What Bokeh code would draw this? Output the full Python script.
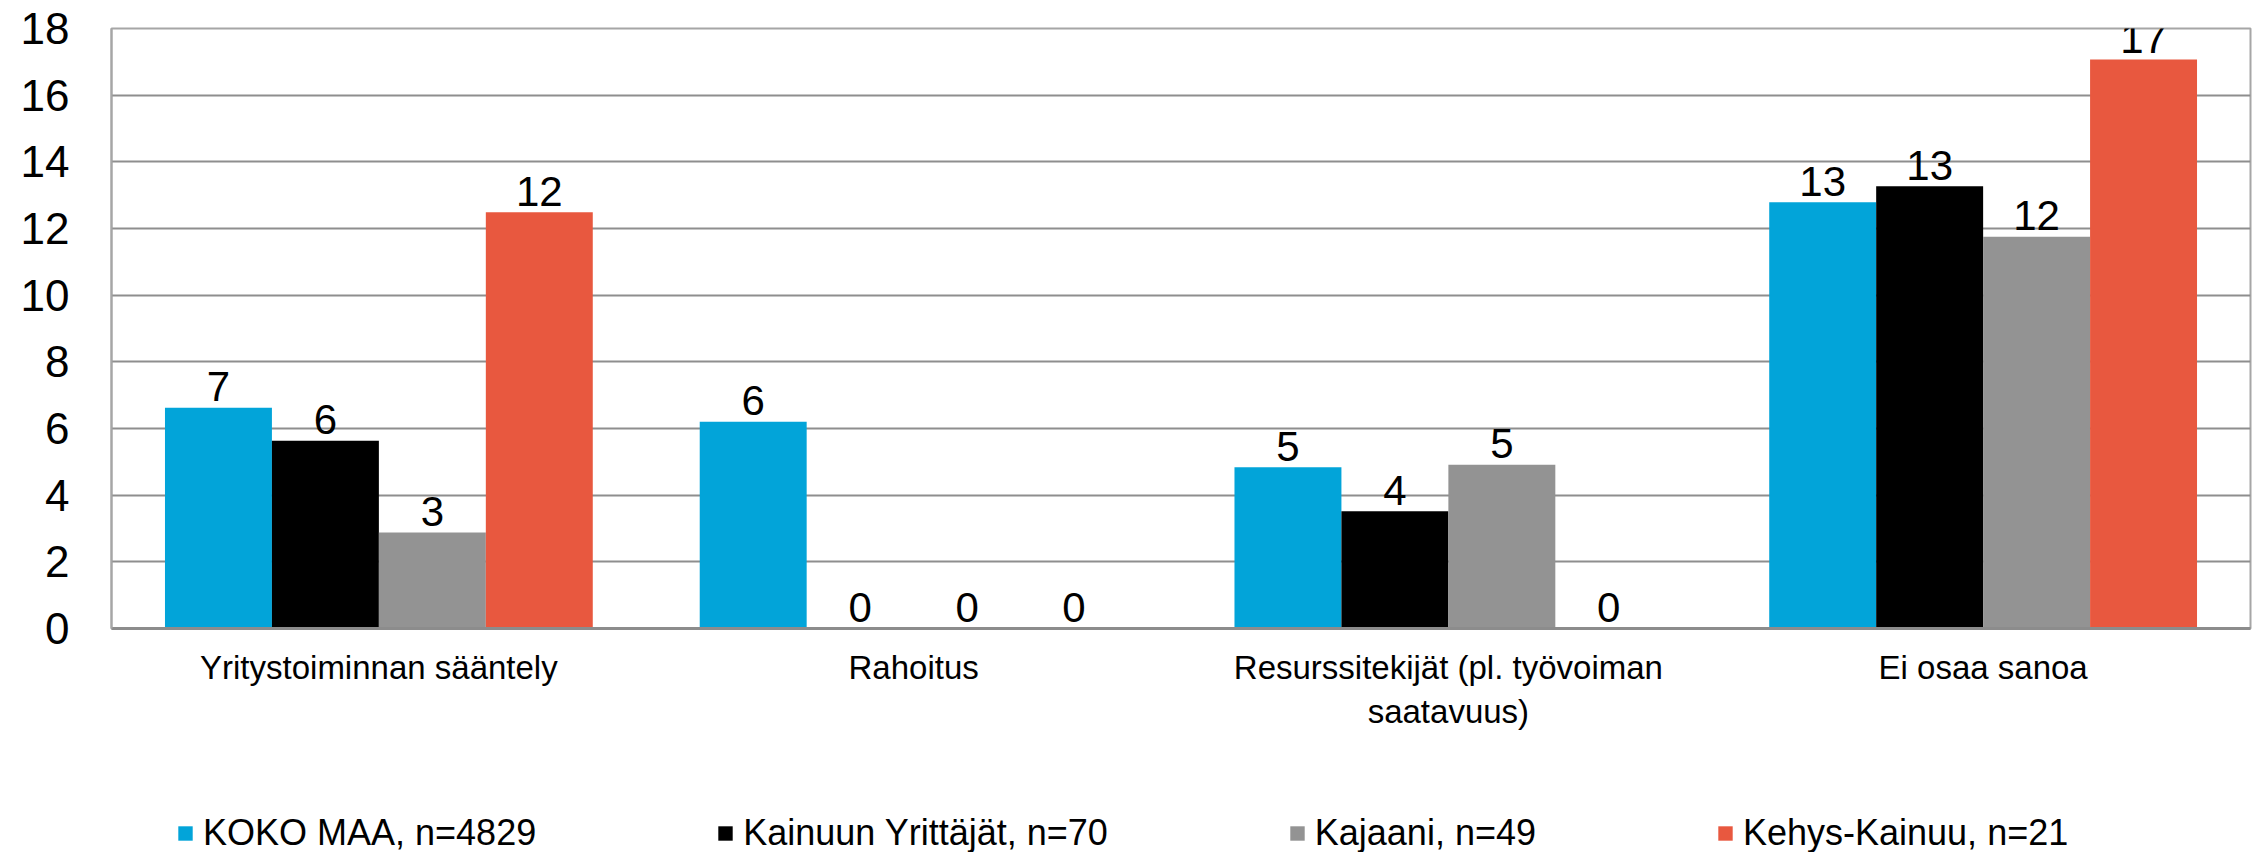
from bokeh.plotting import figure
from bokeh.models import FactorRange, ColumnDataSource, Legend, LegendItem, FixedTicker
from bokeh.transform import dodge
from bokeh.layouts import column
from bokeh.core.properties import value
from bokeh.embed import file_html
from bokeh.resources import INLINE

categories = ["Yritystoiminnan sääntely", "Rahoitus",
              "Resurssitekijät (pl. työvoiman\nsaatavuus)", "Ei osaa sanoa"]
series_names = ["KOKO MAA, n=4829", "Kainuun Yrittäjät, n=70",
                "Kajaani, n=49", "Kehys-Kainuu, n=21"]
koko_maa = [6.62, 6.2, 4.84, 12.79]
kainuun_yrittajat = [5.63, 0.0, 3.52, 13.27]
kajaani = [2.88, 0.0, 4.91, 11.75]
kehys_kainuu = [12.49, 0.0, 0.0, 17.07]
y_ticks = [0, 2, 4, 6, 8, 10, 12, 14, 16, 18]

colors = ["#02A4D9", "#000000", "#939393", "#E8583F"]
series_values = [koko_maa, kainuun_yrittajat, kajaani, kehys_kainuu]
offsets = [-0.3, -0.1, 0.1, 0.3]
FONT = "Liberation Sans"
W = 2252

p = figure(x_range=FactorRange(*categories, range_padding=0),
           y_range=(0, 18),
           frame_width=2139, frame_height=600,
           min_border_left=111, min_border_right=2,
           min_border_top=28, min_border_bottom=130,
           output_backend="svg", toolbar_location=None)

p.background_fill_color = "white"
p.border_fill_color = "white"
p.outline_line_color = "#A6A6A6"
p.outline_line_width = 2

for name, vals, col, off in zip(series_names, series_values, colors, offsets):
    src = ColumnDataSource(dict(cat=categories, val=vals,
                                lbl=[str(int(round(v))) for v in vals]))
    p.vbar(x=dodge("cat", off, range=p.x_range), top="val", width=0.2,
           source=src, fill_color=col, line_color=None)
    p.text(x=dodge("cat", off, range=p.x_range), y="val", text="lbl", source=src,
           text_align="center", text_baseline="alphabetic", y_offset=-21,
           text_font=value(FONT), text_font_size="42px", text_color="black")

p.ygrid.grid_line_color = "#8E8E8E"
p.ygrid.grid_line_width = 2
p.xgrid.grid_line_color = None

p.yaxis.ticker = FixedTicker(ticks=y_ticks)
p.yaxis.major_tick_line_color = None
p.yaxis.minor_tick_line_color = None
p.yaxis.major_tick_out = 0
p.yaxis.major_label_standoff = 42
p.yaxis.axis_line_color = "#A6A6A6"
p.yaxis.axis_line_width = 2
p.yaxis.major_label_text_font = FONT
p.yaxis.major_label_text_font_size = "44px"
p.yaxis.major_label_text_color = "black"

p.xaxis.major_tick_line_color = None
p.xaxis.minor_tick_line_color = None
p.xaxis.major_tick_out = 0
p.xaxis.major_label_standoff = 20
p.xaxis.axis_line_color = "#8C8C8C"
p.xaxis.axis_line_width = 3
p.xaxis.major_label_text_font = FONT
p.xaxis.major_label_text_font_size = "33px"
p.xaxis.major_label_text_color = "black"
p.xaxis.major_label_orientation = "horizontal"

# legend strip below the chart
p2 = figure(width=W, height=94, x_range=(0, 1), y_range=(0, 1),
            min_border=0, min_border_left=0, min_border_right=0,
            min_border_top=0, min_border_bottom=0,
            x_axis_location=None, y_axis_location=None,
            output_backend="svg", toolbar_location=None)
p2.outline_line_color = None
p2.xgrid.grid_line_color = None
p2.ygrid.grid_line_color = None
p2.background_fill_color = "white"
p2.border_fill_color = "white"

items = []
for name, col in zip(series_names, colors):
    # zero-height placeholder bar, only used for the legend swatch
    r = p2.vbar(x=[0.5], top=[0], bottom=[0], width=0.0, fill_color=col,
                line_color=None)
    items.append(LegendItem(label=name, renderers=[r]))

legend = Legend(items=items, orientation="horizontal", location=(65, -2),
                glyph_width=18, glyph_height=18, label_standoff=9,
                spacing=180, padding=0, margin=0,
                label_text_font=FONT, label_text_font_size="36px",
                label_text_color="black", border_line_color=None,
                background_fill_alpha=0)
p2.add_layout(legend, "center")

layout = column(p, p2, spacing=0)
open("out.html", "w").write(file_html(layout, INLINE))
